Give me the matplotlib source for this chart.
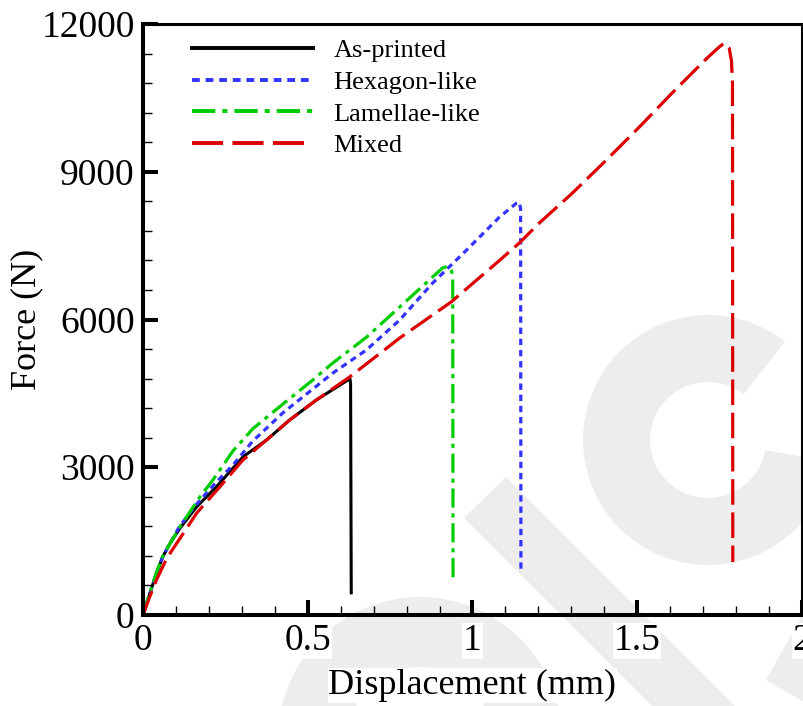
import numpy as np
import matplotlib
matplotlib.use("Agg")
import matplotlib.pyplot as plt
from matplotlib.patches import Wedge, Polygon

plt.rcParams['font.family'] = ['Liberation Serif', 'DejaVu Serif']
plt.rcParams['mathtext.fontset'] = 'stix'

# force-displacement curves
disp_printed = [0, 0.02, 0.04, 0.06, 0.08, 0.112, 0.163, 0.223, 0.304, 0.375, 0.445, 0.526,
                0.622, 0.628, 0.630, 0.632]
force_printed = [0, 420, 830, 1180, 1430, 1760, 2199, 2605, 3214, 3553, 3959, 4365,
                 4772, 4800, 4700, 450]

disp_hexagon = [0, 0.02, 0.04, 0.06, 0.11, 0.16, 0.22, 0.273, 0.333, 0.424, 0.527, 0.576, 0.678,
                0.779, 0.879, 0.982, 1.082, 1.133, 1.142, 1.146, 1.147]
force_hexagon = [0, 420, 830, 1190, 1790, 2230, 2680, 3045, 3530, 4101, 4650, 4913, 5380,
                 5990, 6740, 7410, 8080, 8360, 8380, 8250, 850]

disp_lamellae = [0, 0.02, 0.04, 0.06, 0.112, 0.173, 0.212, 0.273, 0.333, 0.38, 0.424, 0.515,
                 0.576, 0.679, 0.779, 0.879, 0.909, 0.925, 0.937, 0.940, 0.941]
force_lamellae = [0, 440, 850, 1200, 1790, 2400, 2740, 3330, 3780, 4040, 4280, 4770,
                  5117, 5645, 6254, 6863, 7046, 7080, 6980, 6800, 670]

disp_mixed = [0, 0.02, 0.04, 0.072, 0.163, 0.233, 0.303, 0.375, 0.445, 0.526, 0.627, 0.779,
              0.935, 1.082, 1.142, 1.203, 1.303, 1.406, 1.506, 1.606, 1.709, 1.748, 1.764,
              1.779, 1.786, 1.789, 1.790]
force_mixed = [0, 360, 700, 1150, 2070, 2600, 3146, 3553, 3959, 4365, 4833, 5624,
               6355, 7200, 7553, 7960, 8566, 9236, 9906, 10600, 11290, 11530, 11610,
               11510, 11250, 10800, 1075]

labels = ['As-printed', 'Hexagon-like', 'Lamellae-like', 'Mixed']
colors = ['black', '#3333ff', '#00cc00', '#dd0000']

fig = plt.figure(figsize=(8.04, 7.06), dpi=100)

# light grey watermark behind the plot (pixel coordinates)
bg = fig.add_axes([0, 0, 1, 1], zorder=0)
bg.set_xlim(0, 804)
bg.set_ylim(0, 706)
bg.axis('off')
wm = '#ededed'
H = 706
bg.add_patch(Wedge((708, H - 440), 125, 52, 350, width=67, color=wm, lw=0))
bg.add_patch(Wedge((420, H - 739), 142, 0, 180, width=70, color=wm, lw=0))
bg.add_patch(Polygon([(464, H - 518), (506, H - 477), (775, H - 746), (730, H - 784)],
                     closed=True, color=wm, lw=0))
bg.add_patch(Polygon([(766, H - 680), (804, H - 612), (804, H - 702)],
                     closed=True, color=wm, lw=0))

ax = fig.add_axes([143 / 804, 1 - 615 / 706, 659 / 804, 591 / 706], zorder=1)
ax.patch.set_visible(False)

ax.plot(disp_printed, force_printed, color=colors[0], lw=2.2, ls='-', label=labels[0])
ax.plot(disp_hexagon, force_hexagon, color=colors[1], lw=2.3, ls=(0, (2.0, 1.5)), label=labels[1])
ax.plot(disp_lamellae, force_lamellae, color=colors[2], lw=2.3, ls=(0, (6, 1.8, 1.3, 1.8)), label=labels[2])
ax.plot(disp_mixed, force_mixed, color=colors[3], lw=2.3, ls=(0, (8, 2.4)), label=labels[3])

ax.set_xlim(0, 2)
ax.set_ylim(0, 12000)
ax.set_xticks([0, 0.5, 1, 1.5, 2], labels=['0', '0.5', '1', '1.5', '2'])
ax.set_yticks([0, 3000, 6000, 9000, 12000], labels=['0', '3000', '6000', '9000', '12000'])
ax.set_xticks(np.arange(0.1, 2.0, 0.1), minor=True)
ax.set_yticks(np.arange(600, 12000, 600), minor=True)
ax.tick_params(which='major', direction='in', length=11, width=2.9, labelsize=27, pad=6)
ax.tick_params(which='minor', direction='in', length=6.5, width=1.0)
for lab in ax.get_xticklabels() + ax.get_yticklabels():
    lab.set_bbox(dict(facecolor='white', edgecolor='none', pad=0.5))

for side in ['left', 'bottom']:
    ax.spines[side].set_linewidth(2.9)
for side in ['top', 'right']:
    ax.spines[side].set_linewidth(2.2)

ax.set_xlabel('Displacement (mm)', fontsize=26, labelpad=8,
              bbox=dict(facecolor='white', edgecolor='none', pad=0.5))
ax.set_ylabel('Force (N)', fontsize=26)
ax.yaxis.set_label_coords(-0.152, 0.5)

leg = ax.legend(loc='upper left', bbox_to_anchor=(0.0744, 0.975), frameon=False,
                fontsize=19, handlelength=4.6, handletextpad=0.76, labelspacing=0.31,
                borderpad=0, borderaxespad=0)
for h in leg.get_lines():
    h.set_linewidth(2.8)

fig.savefig('out.png', dpi=100)
